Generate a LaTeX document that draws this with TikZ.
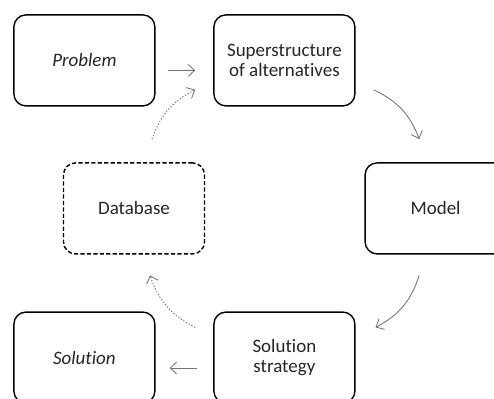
\documentclass[tikz,border=0pt]{standalone}
\usepackage{fontspec}
\setmainfont[RawFeature={-liga}]{Carlito}
\usepackage{tikz}
\usetikzlibrary{positioning, calc, arrows.meta}
\tikzset{box/.style = {rectangle,draw,line width=1pt,rounded corners=0.3cm,minimum width=3.525cm,minimum height=2.275cm,align=center,font=\fontsize{13.5}{14.5}\selectfont,text=black!85}}
\tikzset{arr/.style = {draw=black!55,line width=0.6pt,-{Straight Barb[length=1.6mm,width=3mm]}}}
\tikzset{dotarr/.style = {arr,dash pattern=on 1pt off 1.2pt}}

\begin{document}
\begin{tikzpicture}
                    \useasboundingbox (0,0) rectangle (12.35,-9.95);
                    \clip (0,0) rectangle (12.35,-9.95);
                    \node [box] (prob) at ( 2.11,-1.51)  {\itshape Problem};
                    \node [box] (sup)  at ( 7.11,-1.51)  {Superstructure\\of alternatives};
                    \node [box,dash pattern=on 3pt off 1.6pt] (db) at ( 3.35,-5.21)  {Database};
                    \node [box] (model) at (10.89,-5.21) {Model};
                    \node [box] (sol)   at ( 2.11,-8.94) {\itshape Solution};
                    \node [box] (strat) at ( 7.11,-8.94) {Solution\\strategy};

                    \draw [arr] ([xshift=0.3cm,yshift=-0.25cm]prob.east) -- ([xshift=-0.45cm,yshift=-0.25cm]sup.west);
                    \draw [arr] ([xshift=-0.4cm,yshift=-0.26cm]strat.west) -- ([xshift=0.35cm,yshift=-0.26cm]sol.east);
                    \draw [arr] ([xshift=0.45cm,yshift=0.42cm]sup.south east) to [bend left=22] ([xshift=-0.41cm,yshift=0.58cm]model.north);
                    \draw [arr] ([xshift=-0.41cm,yshift=-0.52cm]model.south) to [bend left=22] ([xshift=0.5cm,yshift=-0.4cm]strat.north east);
                    \draw [dotarr] ([xshift=-0.45cm,yshift=-0.4cm]strat.north west) to [bend left=22] ([xshift=0.4cm,yshift=-0.52cm]db.south);
                    \draw [dotarr] ([xshift=0.45cm,yshift=0.58cm]db.north) to [bend left=22] ([xshift=-0.45cm,yshift=0.42cm]sup.south west);
                \end{tikzpicture}
\end{document}
